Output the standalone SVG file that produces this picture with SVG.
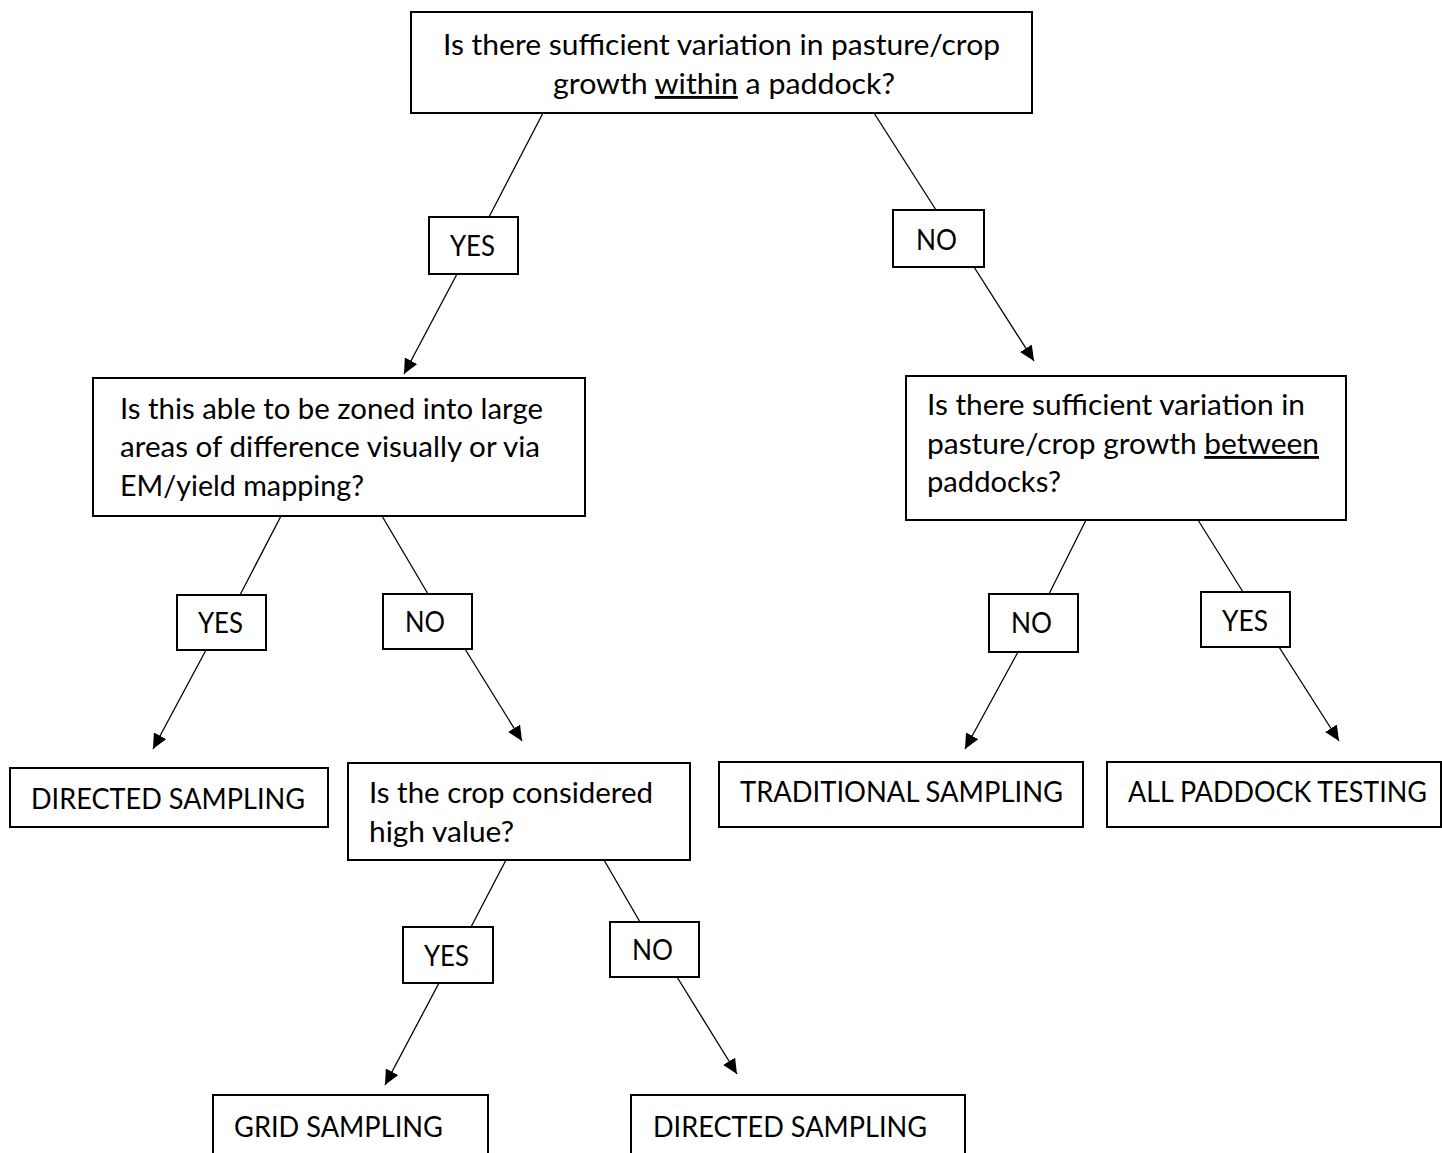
<svg xmlns="http://www.w3.org/2000/svg" width="1442" height="1153" viewBox="0 0 1442 1153">
<style>
.box{fill:#fff;stroke:#000;stroke-width:2}
.t{font-family:Lato,"Liberation Sans",sans-serif;font-size:28.5px;fill:#000}
.ul{text-decoration:underline}
.ln{stroke:#000;stroke-width:1.3;fill:none}
</style>
<defs>
<marker id="ah" markerUnits="userSpaceOnUse" markerWidth="16" markerHeight="14" refX="15" refY="7" orient="auto">
<path d="M0,0 L15,7 L0,14 Z" fill="#000"/>
</marker>
</defs>
<rect width="1442" height="1153" fill="#fff"/>
<g id="connectors">
<line class="ln" x1="543" y1="113" x2="489" y2="217"/>
<line class="ln" x1="457" y1="274" x2="404" y2="374" marker-end="url(#ah)"/>
<line class="ln" x1="874" y1="113" x2="936" y2="210"/>
<line class="ln" x1="974" y1="267" x2="1034" y2="361" marker-end="url(#ah)"/>
<line class="ln" x1="281" y1="516" x2="240" y2="595"/>
<line class="ln" x1="206" y1="650" x2="153" y2="749" marker-end="url(#ah)"/>
<line class="ln" x1="382" y1="516" x2="428" y2="594"/>
<line class="ln" x1="465" y1="649" x2="522" y2="741" marker-end="url(#ah)"/>
<line class="ln" x1="506" y1="860" x2="471" y2="927"/>
<line class="ln" x1="439" y1="983" x2="385" y2="1085" marker-end="url(#ah)"/>
<line class="ln" x1="604" y1="860" x2="640" y2="922"/>
<line class="ln" x1="677" y1="977" x2="737" y2="1074" marker-end="url(#ah)"/>
<line class="ln" x1="1086" y1="520" x2="1049" y2="594"/>
<line class="ln" x1="1018" y1="652" x2="965" y2="749" marker-end="url(#ah)"/>
<line class="ln" x1="1198" y1="520" x2="1243" y2="592"/>
<line class="ln" x1="1279" y1="647" x2="1339" y2="741" marker-end="url(#ah)"/>
</g>
<g id="q1">
<rect class="box" x="411" y="12" width="621" height="101"/>
<text class="t" x="443" y="55" textLength="557" lengthAdjust="spacingAndGlyphs">Is there sufficient variation in pasture/crop</text>
<text class="t" x="553" y="94" textLength="342" lengthAdjust="spacingAndGlyphs">growth <tspan class="ul">within</tspan> a paddock?</text>
</g>
<g id="yes1">
<rect class="box" x="429" y="217" width="89" height="57"/>
<text class="t" x="450" y="256" textLength="45" lengthAdjust="spacingAndGlyphs">YES</text>
</g>
<g id="no1">
<rect class="box" x="893" y="210" width="91" height="57"/>
<text class="t" x="916" y="250" textLength="41" lengthAdjust="spacingAndGlyphs">NO</text>
</g>
<g id="q2">
<rect class="box" x="93" y="378" width="492" height="138"/>
<text class="t" x="120" y="419" textLength="423" lengthAdjust="spacingAndGlyphs">Is this able to be zoned into large</text>
<text class="t" x="120" y="457" textLength="420" lengthAdjust="spacingAndGlyphs">areas of difference visually or via</text>
<text class="t" x="120" y="496" textLength="244" lengthAdjust="spacingAndGlyphs">EM/yield mapping?</text>
</g>
<g id="q3">
<rect class="box" x="906" y="376" width="440" height="144"/>
<text class="t" x="927" y="415" textLength="378" lengthAdjust="spacingAndGlyphs">Is there sufficient variation in</text>
<text class="t" x="927" y="454" textLength="392" lengthAdjust="spacingAndGlyphs">pasture/crop growth <tspan class="ul">between</tspan></text>
<text class="t" x="927" y="492" textLength="134" lengthAdjust="spacingAndGlyphs">paddocks?</text>
</g>
<g id="yes2">
<rect class="box" x="177" y="595" width="89" height="55"/>
<text class="t" x="198" y="633" textLength="45" lengthAdjust="spacingAndGlyphs">YES</text>
</g>
<g id="no2">
<rect class="box" x="383" y="594" width="89" height="55"/>
<text class="t" x="405" y="632" textLength="40" lengthAdjust="spacingAndGlyphs">NO</text>
</g>
<g id="no3">
<rect class="box" x="989" y="594" width="89" height="58"/>
<text class="t" x="1011" y="633" textLength="41" lengthAdjust="spacingAndGlyphs">NO</text>
</g>
<g id="yes3">
<rect class="box" x="1201" y="592" width="89" height="55"/>
<text class="t" x="1222" y="631" textLength="46" lengthAdjust="spacingAndGlyphs">YES</text>
</g>
<g id="directed1">
<rect class="box" x="10" y="768" width="318" height="59"/>
<text class="t" x="31" y="809" textLength="274" lengthAdjust="spacingAndGlyphs">DIRECTED SAMPLING</text>
</g>
<g id="q4">
<rect class="box" x="348" y="763" width="342" height="97"/>
<text class="t" x="369" y="803" textLength="284" lengthAdjust="spacingAndGlyphs">Is the crop considered</text>
<text class="t" x="369" y="842" textLength="145" lengthAdjust="spacingAndGlyphs">high value?</text>
</g>
<g id="traditional">
<rect class="box" x="719" y="762" width="364" height="65"/>
<text class="t" x="740" y="802" textLength="323" lengthAdjust="spacingAndGlyphs">TRADITIONAL SAMPLING</text>
</g>
<g id="allpaddock">
<rect class="box" x="1107" y="762" width="334" height="65"/>
<text class="t" x="1128" y="802" textLength="299" lengthAdjust="spacingAndGlyphs">ALL PADDOCK TESTING</text>
</g>
<g id="yes4">
<rect class="box" x="403" y="927" width="90" height="56"/>
<text class="t" x="424" y="966" textLength="45" lengthAdjust="spacingAndGlyphs">YES</text>
</g>
<g id="no4">
<rect class="box" x="610" y="922" width="89" height="55"/>
<text class="t" x="632" y="960" textLength="41" lengthAdjust="spacingAndGlyphs">NO</text>
</g>
<g id="grid">
<rect class="box" x="213" y="1095" width="275" height="80"/>
<text class="t" x="234" y="1137" textLength="209" lengthAdjust="spacingAndGlyphs">GRID SAMPLING</text>
</g>
<g id="directed2">
<rect class="box" x="631" y="1095" width="334" height="80"/>
<text class="t" x="653" y="1137" textLength="274" lengthAdjust="spacingAndGlyphs">DIRECTED SAMPLING</text>
</g>
</svg>
